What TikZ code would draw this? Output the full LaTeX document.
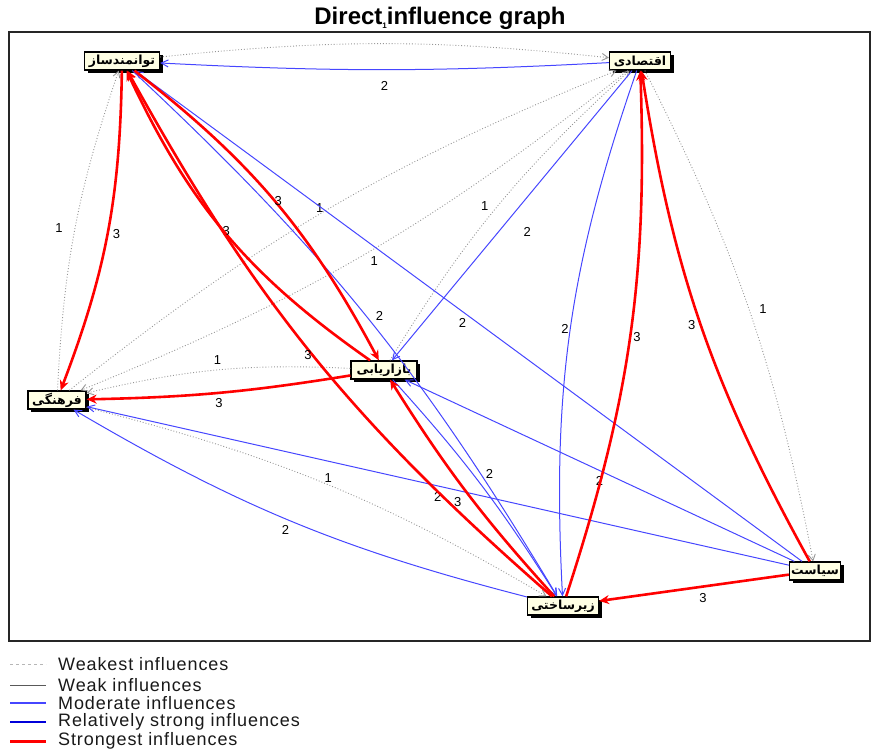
\documentclass[tikz,border=0pt]{standalone}
\usepackage{fontspec}
\setmainfont{Liberation Sans}
\newfontfamily\farsifont[Script=Arabic]{DejaVu Sans}
\newfontfamily\legendfont[LetterSpace=5]{Liberation Sans}
\TeXXeTstate=1
\usetikzlibrary{arrows.meta,shadows}

\definecolor{infblue}{RGB}{70,70,255}
\definecolor{infred}{RGB}{255,0,0}
\definecolor{infgrey}{RGB}{150,150,150}
\definecolor{boxfill}{RGB}{255,255,228}

\begin{document}
\begin{tikzpicture}[x=1pt,y=1pt,
    factor/.style={draw=black, line width=1.3pt, fill=boxfill, inner sep=1pt,
      minimum height=18pt, font=\farsifont\bfseries\fontsize{12.5}{12.5}\selectfont,
      drop shadow={shadow xshift=3pt, shadow yshift=-3pt, fill=black, opacity=1}},
    weakest/.style={infgrey, dotted, line width=0.9pt, -{Straight Barb[length=6pt,width=7pt]}},
    moderate/.style={infblue, line width=1pt, -{Straight Barb[length=7pt,width=7pt]}},
    strongest/.style={infred, line width=2.6pt, -{Stealth[length=10pt,width=9pt]}},
    lbl/.style={text=black, font=\fontsize{13}{13}\selectfont, inner sep=1pt},
    legtext/.style={anchor=west, inner sep=0pt, text=black!90,
      font=\legendfont\fontsize{18}{18}\selectfont}]
  \useasboundingbox (0,0) rectangle (878,-751);

  % title and frame
  \node[anchor=base] (ttl) at (440,-25) {\fontsize{24}{24}\selectfont\bfseries
    Direct\raisebox{-4pt}{\fontsize{8}{8}\selectfont 1}influence graph};
  \draw[line width=1.6pt, black!85] (9,-32) rectangle (870,-641);

  % factors
  \node[factor, minimum width=75pt] (T) at (122,-61) {\beginR توانمندساز\endR};
  \node[factor, minimum width=61pt] (E) at (640,-61) {\beginR اقتصادی\endR};
  \node[factor, minimum width=58pt] (F) at (57,-400) {\beginR فرهنگی\endR};
  \node[factor, minimum width=66pt] (M) at (384,-370) {\beginR بازاریابی\endR};
  \node[factor, minimum width=71pt] (Z) at (563,-606) {\beginR زیرساختی\endR};
  \node[factor, minimum width=51pt] (S) at (815,-571) {\beginR سیاست\endR};

  % weakest influences
  \draw[weakest] (T) to[bend left=6] (E);
  \draw[weakest] (F) to[bend left=8] node[lbl, left=11pt] {1} (T);
  \draw[weakest] (F) to[bend left=8] node[lbl, left=5pt] {1} (E);
  \draw[weakest] (E) to[bend left=8] node[lbl, below right=2pt] {1} (F);
  \draw[weakest] (M) to[bend left=8] node[lbl, left=8pt] {1} (E);
  \draw[weakest] (M) to[bend right=8] node[lbl, above=4pt] {1} (F);
  \draw[weakest] (F) to[bend left=8] node[lbl, above right=-1pt] {1} (Z);
  \draw[weakest] (E) to[bend left=8] node[lbl, right=9pt] {1} (S);

  % moderate influences
  \draw[moderate] (E) to[bend left=3] node[lbl, below=10pt] {2} (T);
  \draw[moderate] (E) -- node[lbl, below right=10pt] {2} (M);
  \draw[moderate] (E) to[bend right=11] node[lbl, left=0pt] {2} (Z);
  \draw[moderate] (T) to[bend left=8] node[lbl, right=8pt] {2} (Z);
  \draw[moderate] (M) to[bend left=5] node[lbl, above right=4pt] {2} (Z);
  \draw[moderate] (S) -- node[lbl, below left=1pt] {2} (T);
  \draw[moderate] (S) -- node[lbl, below=4pt] {2} (M);
  \draw[moderate] (S) -- node[lbl, below=5pt] {2} (F);
  \draw[moderate] (Z) to[bend left=8] node[lbl, below left=2pt] {2} (F);

  % strongest influences
  \draw[strongest] (T) to[bend left=10] node[lbl, right=3pt] {3} (F);
  \draw[strongest] (T) to[bend left=12] node[lbl, right=-2pt] {3} (M);
  \draw[strongest] (M) to[bend left=15] node[lbl, above=-4pt] {3} (T);
  \draw[strongest] (Z) to[bend left=10] node[lbl, left=-1pt] {3} (T);
  \draw[strongest] (Z) to[bend left=5] node[lbl, below left=3pt] {3} (M);
  \draw[strongest] (M) to[bend left=4] node[lbl, below=3pt] {3} (F);
  \draw[strongest] (Z) to[bend right=10] node[lbl, right=1pt] {3} (E);
  \draw[strongest] (S) to[bend left=10] node[lbl, left=3pt] {3} (E);
  \draw[strongest] (S) -- node[lbl, below right=3pt] {3} (Z);

  % legend
  \draw[infgrey!70, dashed, line width=0.6pt] (10,-664) -- (46,-664);
  \node[legtext] (lg1) at (58,-664) {Weakest influences};
  \draw[black!65, line width=0.7pt] (10,-685) -- (46,-685);
  \node[legtext] (lg2) at (58,-685) {Weak influences};
  \draw[infblue, line width=1.4pt] (10,-703) -- (46,-703);
  \node[legtext] (lg3) at (58,-703) {Moderate influences};
  \draw[blue!85!black, line width=2.2pt] (10,-722) -- (46,-722);
  \node[legtext] (lg4) at (58,-722) {Relatively strong influences};
  \draw[infred, line width=3pt] (10,-741) -- (46,-741);
  \node[legtext] (lg5) at (58,-741) {Strongest influences};
\end{tikzpicture}
\end{document}
